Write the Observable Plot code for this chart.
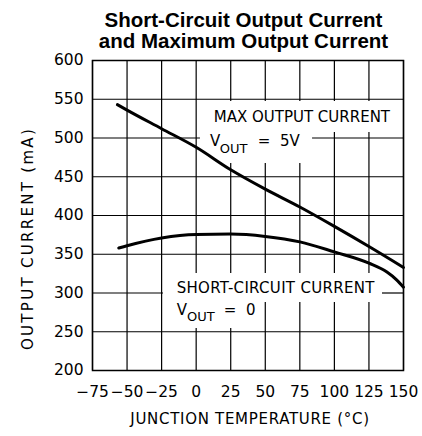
<!DOCTYPE html>
<html>
<head>
<meta charset="utf-8">
<script src="https://cdn.jsdelivr.net/npm/d3@7"></script>
<script src="https://cdn.jsdelivr.net/npm/@observablehq/plot@0.6"></script>
<style>
  html, body { margin: 0; padding: 0; background: #fff; }
  #wrap { position: relative; width: 422px; height: 436px; }
  #title {
    position: absolute; left: 88px; top: 9px; width: 311px;
    text-align: center; font-family: "Liberation Sans", Arial, sans-serif;
    font-weight: bold; font-size: 20.5px; line-height: 21px; color: #000;
    white-space: nowrap;
  }
</style>
</head>
<body>
<div id="wrap">
  <div id="chart"></div>
  <div id="title">Short-Circuit Output Current<br>and Maximum Output Current</div>
</div>
<script>
// ---- data ----
const maxTemps = [-57, -50, -25, 0, 25, 50, 75, 100, 125, 150];
const maxCurrent = [543, 536, 512, 488, 459, 434, 411, 386, 360, 333];

const scTemps = [-56, -50, -25, 0, 25, 50, 75, 100, 125, 138, 145, 150];
const scCurrent = [358, 361, 371, 375.5, 376, 373, 366, 353, 338.5, 327, 317, 307.5];

const xTicks = [-75, -50, -25, 0, 25, 50, 75, 100, 125, 150];
const yTicks = [200, 250, 300, 350, 400, 450, 500, 550, 600];

const xLabel = "JUNCTION TEMPERATURE (°C)";
const yLabel = "OUTPUT CURRENT (mA)";

// annotation texts (baseline anchored in data space)
const notesMain = [
  {t: 12.7, v: 520.4, text: "MAX OUTPUT CURRENT"},
  {t: 10.0, v: 490.3, text: "V"},
  {t: 44.6, v: 490.3, text: "=  5V"},
  {t: -14.1, v: 299.4, text: "SHORT-CIRCUIT CURRENT"},
  {t: -14.1, v: 271.0, text: "V"},
  {t: 20.0, v: 271.0, text: "=  0"}
];
const notesSub = [
  {t: 17.0, v: 480.5, text: "OUT"},
  {t: -6.6, v: 264.5, text: "OUT"}
];
// areas where the grid is interrupted behind the annotation text
const labelBoxes = [
  {t1: 6.0, t2: 144.9, v1: 507.1, v2: 547.1},
  {t1: 3.1, t2: 84.2, v1: 467.1, v2: 507.1},
  {t1: -23.6, t2: 134.8, v1: 287.7, v2: 325.2},
  {t1: -23.6, t2: 45.1, v1: 254.2, v2: 287.7}
];

const maxData = maxTemps.map((t, i) => ({t, v: maxCurrent[i]}));
const scData = scTemps.map((t, i) => ({t, v: scCurrent[i]}));

const xMin = xTicks[0], xMax = xTicks[xTicks.length - 1];
const yMin = yTicks[0], yMax = yTicks[yTicks.length - 1];

// subtract a list of [a,b] intervals from [lo,hi]
function subtract(lo, hi, cuts) {
  cuts = cuts.slice().sort((p, q) => p[0] - q[0]);
  const out = [];
  let cur = lo;
  for (const [a, b] of cuts) {
    if (b <= cur) continue;
    if (a > cur) out.push([cur, Math.min(a, hi)]);
    cur = Math.max(cur, b);
    if (cur >= hi) break;
  }
  if (cur < hi) out.push([cur, hi]);
  return out;
}
const gridV = [];
for (const t of xTicks) {
  const cuts = labelBoxes.filter(b => t > b.t1 && t < b.t2).map(b => [b.v1, b.v2]);
  for (const [a, b] of subtract(yMin, yMax, cuts)) gridV.push({x: t, y1: a, y2: b});
}
const gridH = [];
for (const v of yTicks) {
  const cuts = labelBoxes.filter(b => v > b.v1 && v < b.v2).map(b => [b.t1, b.t2]);
  for (const [a, b] of subtract(xMin, xMax, cuts)) gridH.push({y: v, x1: a, x2: b});
}

const chart = Plot.plot({
  width: 422,
  height: 436,
  marginLeft: 92,
  marginRight: 19,
  marginTop: 60,
  marginBottom: 66,
  style: {fontFamily: "DejaVu Sans, sans-serif", fontSize: "15.5px", background: "#fff"},
  x: {domain: [xMin, xMax], ticks: xTicks, tickSize: 0, tickPadding: 15, label: null,
      tickFormat: d => d < 0 ? "\u2212" + Math.abs(d) : String(d)},
  y: {domain: [yMin, yMax], ticks: yTicks, tickSize: 0, tickPadding: 9, label: null},
  marks: [
    Plot.text(notesMain, {x: "t", y: "v", text: "text", fontSize: 15, textAnchor: "start", lineAnchor: "bottom", fill: "black"}),
    Plot.text(notesSub, {x: "t", y: "v", text: "text", fontSize: 13, textAnchor: "start", lineAnchor: "bottom", fill: "black"}),
    Plot.ruleX(gridV, {x: "x", y1: "y1", y2: "y2", stroke: "black", strokeWidth: 1.2}),
    Plot.ruleY(gridH, {y: "y", x1: "x1", x2: "x2", stroke: "black", strokeWidth: 1.2}),
    Plot.line(maxData, {x: "t", y: "v", stroke: "black", strokeWidth: 3, curve: "monotone-x"}),
    Plot.line(scData, {x: "t", y: "v", stroke: "black", strokeWidth: 3, curve: "monotone-x"}),
    Plot.frame({stroke: "black", strokeWidth: 1.5}),
    Plot.text([xLabel], {frameAnchor: "bottom", text: d => d, dy: 53, dx: 2, textAnchor: "middle", lineAnchor: "bottom", fontSize: 15}),
    Plot.text([yLabel], {frameAnchor: "left", text: d => d, dx: -64, dy: 23, rotate: -90, textAnchor: "middle", lineAnchor: "middle", fontSize: 15})
  ]
});
d3.select(chart).selectAll("text").each(function() {
  const s = this.textContent;
  if (s === yLabel) this.style.letterSpacing = "2.3px";
  else if (s === xLabel) this.style.letterSpacing = "0.7px";
  else if (s === "SHORT-CIRCUIT CURRENT") this.style.letterSpacing = "0.3px";
});
document.getElementById("chart").appendChild(chart);
</script>
</body>
</html>
